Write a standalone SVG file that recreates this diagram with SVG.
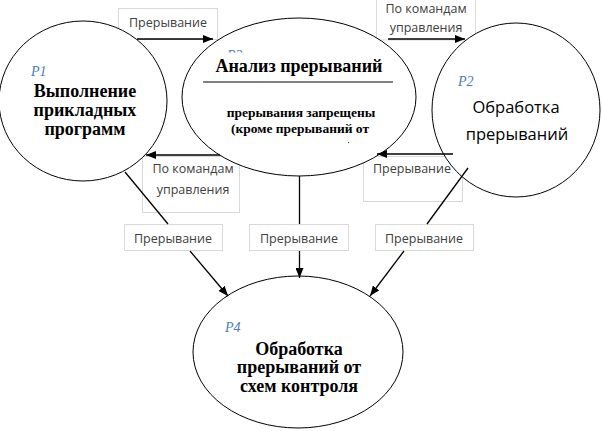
<svg xmlns="http://www.w3.org/2000/svg" width="602" height="431" viewBox="0 0 602 431">
<defs>
<style>
.box{fill:#fff;stroke:#d9d9d9;stroke-width:1}
.node{fill:#fff;stroke:#000;stroke-width:1}
.lbl{font-family:"Open Sans","Noto Sans",sans-serif;font-size:12.5px;fill:#404040;text-anchor:middle}
.ser{font-family:"Liberation Serif","Times New Roman",serif;font-weight:bold;fill:#000;text-anchor:middle}
.pid{font-family:"Liberation Serif",serif;font-style:italic;font-size:14px;fill:#4a7ebb}
.con{stroke:#000;stroke-width:1.3;fill:none}
</style>
<marker id="ah" markerUnits="userSpaceOnUse" markerWidth="10" markerHeight="8" refX="10" refY="4" orient="auto">
<path d="M0,0 L10,4 L0,8 z" fill="#000"/>
</marker>
<clipPath id="p3clip"><rect x="220" y="48" width="30" height="4.5"/></clipPath>
</defs>
<rect width="602" height="431" fill="#fff"/>

<g id="labels">
<g id="lbl-top-left"><rect class="box" x="118.5" y="8.5" width="99" height="31"/><text class="lbl" x="168" y="27">Прерывание</text></g>
<g id="lbl-top-right"><rect class="box" x="376.5" y="-1" width="99" height="41"/><text class="lbl" x="426" y="13">По командам</text><text class="lbl" x="426" y="32">управления</text></g>
<g id="lbl-mid-left"><rect class="box" x="142.5" y="156.5" width="97" height="56"/><text class="lbl" x="193" y="173">По командам</text><text class="lbl" x="193" y="194">управления</text></g>
<g id="lbl-mid-right"><rect class="box" x="363.5" y="156.5" width="99" height="45"/><text class="lbl" x="412" y="173">Прерывание</text></g>
<g id="lbl-bot-1"><rect class="box" x="124.5" y="224.5" width="98" height="26"/><text class="lbl" x="173" y="243">Прерывание</text></g>
<g id="lbl-bot-2"><rect class="box" x="249.5" y="224.5" width="99" height="26"/><text class="lbl" x="299" y="243">Прерывание</text></g>
<g id="lbl-bot-3"><rect class="box" x="375.5" y="224.5" width="98" height="26"/><text class="lbl" x="424" y="243">Прерывание</text></g>
</g>

<g id="P1">
<ellipse class="node" cx="83" cy="101" rx="84" ry="80"/>
<text class="pid" x="31" y="76">P1</text>
<text class="ser" font-size="18" x="85" y="97">Выполнение</text>
<text class="ser" font-size="18" x="85" y="116">прикладных</text>
<text class="ser" font-size="18" x="85" y="135">программ</text>
</g>

<g id="P3">
<ellipse class="node" cx="299" cy="97" rx="117" ry="79"/>
<text class="pid" x="227" y="60" clip-path="url(#p3clip)">P3</text>
<text class="ser" font-size="18" x="299" y="72">Анализ прерываний</text>
<line x1="203" y1="82" x2="393" y2="82" stroke="#808080" stroke-width="2"/>
<text class="ser" font-size="13.5" x="301" y="117">прерывания запрещены</text>
<text class="ser" font-size="13.5" x="300" y="133">(кроме прерываний от</text>
<circle cx="348.5" cy="142.5" r="0.7" fill="#555"/>
</g>

<g id="P2">
<ellipse class="node" cx="516" cy="110" rx="84" ry="87"/>
<text class="pid" x="458" y="86">P2</text>
<text font-family="Open Sans, Noto Sans, sans-serif" font-size="16.5" font-weight="500" fill="#000" text-anchor="middle" x="516" y="113">Обработка</text>
<text font-family="Open Sans, Noto Sans, sans-serif" font-size="16.5" font-weight="500" fill="#000" text-anchor="middle" x="517" y="140">прерываний</text>
</g>

<g id="P4">
<ellipse class="node" cx="298" cy="352" rx="105" ry="76"/>
<text class="pid" x="225" y="332">P4</text>
<text class="ser" font-size="18" x="299" y="355">Обработка</text>
<text class="ser" font-size="18" x="299" y="373">прерываний от</text>
<text class="ser" font-size="18" x="299" y="392">схем контроля</text>
</g>

<g id="connectors">
<line class="con" x1="137" y1="39" x2="213" y2="39" marker-end="url(#ah)"/>
<line class="con" x1="388" y1="39" x2="465" y2="39" marker-end="url(#ah)"/>
<line class="con" x1="220" y1="155" x2="146" y2="155" marker-end="url(#ah)"/>
<line class="con" x1="453" y1="154" x2="377" y2="154" marker-end="url(#ah)"/>
<line class="con" x1="125" y1="172" x2="168" y2="224"/>
<line class="con" x1="190" y1="251" x2="228" y2="296" marker-end="url(#ah)"/>
<line class="con" x1="299.5" y1="176" x2="299.5" y2="224"/>
<line class="con" x1="299.5" y1="251" x2="299.5" y2="278" marker-end="url(#ah)"/>
<line class="con" x1="468" y1="168" x2="427" y2="224"/>
<line class="con" x1="404" y1="251" x2="370" y2="296" marker-end="url(#ah)"/>
</g>
</svg>
